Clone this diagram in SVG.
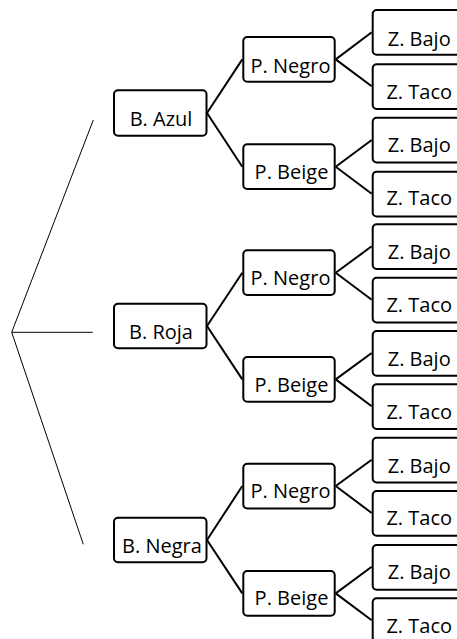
<svg xmlns="http://www.w3.org/2000/svg" width="457" height="639" viewBox="0 0 457 639">
  <style>
    .box { fill: #ffffff; stroke: #000000; stroke-width: 2; }
    .lbl { font-family: "Open Sans", "Liberation Sans", sans-serif; font-size: 20px; fill: #000000; text-anchor: middle; }
    .conn line { stroke: #000000; stroke-width: 2; }
    .fan line { stroke: #000000; stroke-width: 1; }
  </style>
  <rect x="0" y="0" width="457" height="639" fill="#ffffff"/>

  <g id="connectors">
    <g class="fan">
      <line x1="11.7" y1="332.3" x2="93.3" y2="120"/>
      <line x1="11.7" y1="332.3" x2="92.7" y2="332.3"/>
      <line x1="11.7" y1="332.3" x2="83.3" y2="544.3"/>
    </g>
    <g class="conn">
      <line x1="207" y1="113" x2="242.3" y2="59.4"/>
      <line x1="207" y1="113" x2="242.3" y2="166.7"/>
      <line x1="207" y1="326" x2="242.3" y2="272.7"/>
      <line x1="207" y1="326" x2="242.3" y2="379.4"/>
      <line x1="207" y1="540" x2="242.3" y2="486"/>
      <line x1="207" y1="540" x2="242.3" y2="593.4"/>

      <line x1="335.7" y1="59.4" x2="371.7" y2="32.3"/>
      <line x1="335.7" y1="59.4" x2="371.7" y2="86.3"/>
      <line x1="335.7" y1="166.7" x2="371.7" y2="140"/>
      <line x1="335.7" y1="166.7" x2="371.7" y2="193.7"/>
      <line x1="335.7" y1="272.7" x2="371.7" y2="246.3"/>
      <line x1="335.7" y1="272.7" x2="371.7" y2="299.7"/>
      <line x1="335.7" y1="379.4" x2="371.7" y2="353"/>
      <line x1="335.7" y1="379.4" x2="371.7" y2="406.3"/>
      <line x1="335.7" y1="486" x2="371.7" y2="459.7"/>
      <line x1="335.7" y1="486" x2="371.7" y2="513"/>
      <line x1="335.7" y1="593.4" x2="371.7" y2="566.7"/>
      <line x1="335.7" y1="593.4" x2="371.7" y2="620.3"/>
    </g>
  </g>

  <g id="b-azul"><rect class="box" x="114" y="90.3" width="92.5" height="45.4" rx="4"/><text class="lbl" x="161" y="126">B. Azul</text></g>
  <g id="b-roja"><rect class="box" x="114" y="303.7" width="92.5" height="44.6" rx="4"/><text class="lbl" x="161" y="339">B. Roja</text></g>
  <g id="b-negra"><rect class="box" x="114" y="517.7" width="92.5" height="44.6" rx="4"/><text class="lbl" x="162" y="552.7">B. Negra</text></g>

  <g id="p-negro-1"><rect class="box" x="243.3" y="37" width="91.4" height="44.7" rx="4"/><text class="lbl" x="290.5" y="72.7">P. Negro</text></g>
  <g id="p-beige-1"><rect class="box" x="243.3" y="144.3" width="91.4" height="44.7" rx="4"/><text class="lbl" x="291.5" y="179">P. Beige</text></g>
  <g id="p-negro-2"><rect class="box" x="243.3" y="250.3" width="91.4" height="44.7" rx="4"/><text class="lbl" x="290.5" y="285">P. Negro</text></g>
  <g id="p-beige-2"><rect class="box" x="243.3" y="357" width="91.4" height="44.7" rx="4"/><text class="lbl" x="291.5" y="392.3">P. Beige</text></g>
  <g id="p-negro-3"><rect class="box" x="243.3" y="463.7" width="91.4" height="44.7" rx="4"/><text class="lbl" x="290.5" y="498.3">P. Negro</text></g>
  <g id="p-beige-3"><rect class="box" x="243.3" y="571" width="91.4" height="44.7" rx="4"/><text class="lbl" x="291.5" y="605">P. Beige</text></g>

  <g id="z-bajo-1"><rect class="box" x="372.7" y="10" width="92" height="44.7" rx="4"/><text class="lbl" x="419.2" y="46">Z. Bajo</text></g>
  <g id="z-taco-1"><rect class="box" x="372.7" y="64.3" width="92" height="44.7" rx="4"/><text class="lbl" x="419.2" y="99.3">Z. Taco</text></g>
  <g id="z-bajo-2"><rect class="box" x="372.7" y="117.7" width="92" height="44.7" rx="4"/><text class="lbl" x="419.2" y="151.7">Z. Bajo</text></g>
  <g id="z-taco-2"><rect class="box" x="372.7" y="171.7" width="92" height="44.7" rx="4"/><text class="lbl" x="419.2" y="205">Z. Taco</text></g>
  <g id="z-bajo-3"><rect class="box" x="372.7" y="224.3" width="92" height="44.7" rx="4"/><text class="lbl" x="419.2" y="259.3">Z. Bajo</text></g>
  <g id="z-taco-3"><rect class="box" x="372.7" y="277.7" width="92" height="44.7" rx="4"/><text class="lbl" x="419.2" y="312.3">Z. Taco</text></g>
  <g id="z-bajo-4"><rect class="box" x="372.7" y="331" width="92" height="44.7" rx="4"/><text class="lbl" x="419.2" y="365.7">Z. Bajo</text></g>
  <g id="z-taco-4"><rect class="box" x="372.7" y="384.3" width="92" height="44.7" rx="4"/><text class="lbl" x="419.2" y="419">Z. Taco</text></g>
  <g id="z-bajo-5"><rect class="box" x="372.7" y="437.7" width="92" height="44.7" rx="4"/><text class="lbl" x="419.2" y="472.7">Z. Bajo</text></g>
  <g id="z-taco-5"><rect class="box" x="372.7" y="491" width="92" height="44.7" rx="4"/><text class="lbl" x="419.2" y="525.3">Z. Taco</text></g>
  <g id="z-bajo-6"><rect class="box" x="372.7" y="545" width="92" height="44.7" rx="4"/><text class="lbl" x="419.2" y="579">Z. Bajo</text></g>
  <g id="z-taco-6"><rect class="box" x="372.7" y="598.3" width="92" height="44.7" rx="4"/><text class="lbl" x="419.2" y="633">Z. Taco</text></g>
</svg>
